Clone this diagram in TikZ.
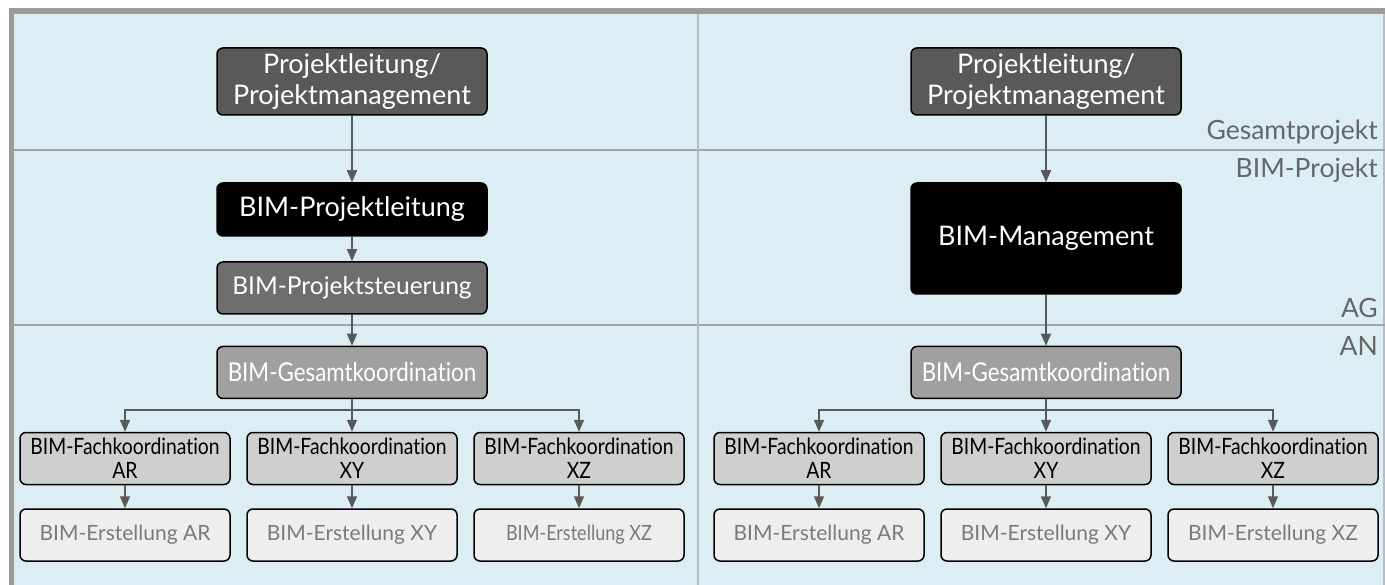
\documentclass[tikz,border=0pt]{standalone}
\usepackage{fontspec}
\setmainfont{Lato}[Ligatures=NoCommon]
\newfontfamily\schmal{Lato}[FakeStretch=0.86, Ligatures=NoCommon]
\usetikzlibrary{arrows.meta}
\definecolor{hgblau}{HTML}{DCEEF3}
\definecolor{rahmengrau}{HTML}{9B9B9B}
\definecolor{liniengrau}{HTML}{A3A3A3}
\definecolor{trenngrau}{HTML}{B4BCC4}
\definecolor{pfeilgrau}{HTML}{595959}
\definecolor{kdunkel}{HTML}{595959}
\definecolor{kmittel}{HTML}{6E6E6E}
\definecolor{khell}{HTML}{A0A0A0}
\definecolor{kfach}{HTML}{CFCFCF}
\definecolor{kerst}{HTML}{EEEEEE}
\definecolor{terst}{HTML}{7A7A7A}
\definecolor{tebene}{HTML}{666666}
\tikzset{
  kasten/.style={draw=black, line width=1.5pt, rounded corners=6pt, inner sep=0pt,
    align=center, minimum width=270pt, minimum height=52pt, text=white,
    font=\fontsize{27}{31}\selectfont},
  leitung/.style={kasten, fill=kdunkel, minimum height=67pt},
  bimchef/.style={kasten, fill=black},
  steuer/.style={kasten, fill=kmittel, font=\fontsize{24.5}{28}\selectfont},
  gesamt/.style={kasten, fill=khell, font=\schmal\fontsize{26}{30}\selectfont},
  fach/.style={kasten, fill=kfach, text=black, minimum width=210pt,
    font=\schmal\fontsize{22.5}{24}\selectfont},
  erst/.style={kasten, fill=kerst, text=terst, minimum width=210pt,
    font=\fontsize{21}{24}\selectfont},
  erstLXZ/.style={font=\schmal\fontsize{21}{24}\selectfont},
  ebene/.style={anchor=east, text=tebene, inner sep=0pt, font=\fontsize{26.5}{30}\selectfont},
  pfeil/.style={draw=pfeilgrau, line width=1.5pt, -{Triangle[length=12pt,width=10pt]}}
}
\begin{document}
\begin{tikzpicture}[x=1pt, y=-1pt] % 1px = 1pt, y nach unten
  \useasboundingbox (0,0) rectangle (1385,585);
  \fill[hgblau] (14,14) rectangle (1385,585); % Hintergrund
  \fill[rahmengrau] (9,8.5) rectangle (1385,14); % Rahmen oben
  \fill[rahmengrau] (9,8.5) rectangle (14,585); % Rahmen links
  \draw[trenngrau, line width=2pt] (1384,14) -- (1384,585);
  \draw[liniengrau, line width=1.5pt] (14,150) -- (1385,150); % Gesamtprojekt / BIM-Projekt
  \draw[liniengrau, line width=1.5pt] (14,325) -- (1385,325); % AG / AN
  \draw[trenngrau, line width=2.5pt] (698,14) -- (698,585); % Trennung links/rechts

  % Ebenen
  \node[ebene] (gesprojekt) at (1378,132) {Gesamtprojekt};
  \node[ebene] (bimprojekt) at (1378,170) {BIM-Projekt};
  \node[ebene] (ag) at (1378,308) {AG};
  \node[ebene] (an) at (1378,346) {AN};

  % links
  \node[leitung] (plL) at (352,81.5) {Projektleitung/\\Projektmanagement};
  \node[bimchef, minimum height=53pt] (bplL) at (352,209.5) {BIM-Projektleitung};
  \node[steuer] (bpsL) at (352,288) {BIM-Projektsteuerung};
  \draw[pfeil] (plL) -- (bplL);
  \draw[pfeil] (bplL) -- (bpsL);

  % rechts
  \node[leitung] (plR) at (1046,81.5) {Projektleitung/\\Projektmanagement};
  \node[bimchef, minimum height=111pt] (bmR) at (1046,238.5) {BIM-Management};
  \draw[pfeil] (plR) -- (bmR);

  \foreach \s/\cx in {L/352,R/1046}{
    \node[gesamt] (ges\s) at (\cx,372.5) {BIM-Gesamtkoordination};
    \coordinate (ast\s) at (\cx,410);
    \foreach \k/\dx in {AR/-227,XY/0,XZ/227}{
      \node[fach] (fach\s\k) at (\cx+\dx,458.5) {BIM-Fachkoordination\\\k};
      \node[erst, erst\s\k/.try] (erst\s\k) at (\cx+\dx,535) {BIM-Erstellung \k};
      \draw[pfeil] (ast\s) -| (fach\s\k.north);
      \draw[pfeil] (fach\s\k) -- (erst\s\k);
    }
    \draw[pfeilgrau, line width=1.5pt] (ges\s) -- (ast\s);
  }
  \draw[pfeil] (bpsL) -- (gesL);
  \draw[pfeil] (bmR) -- (gesR);
\end{tikzpicture}
\end{document}
